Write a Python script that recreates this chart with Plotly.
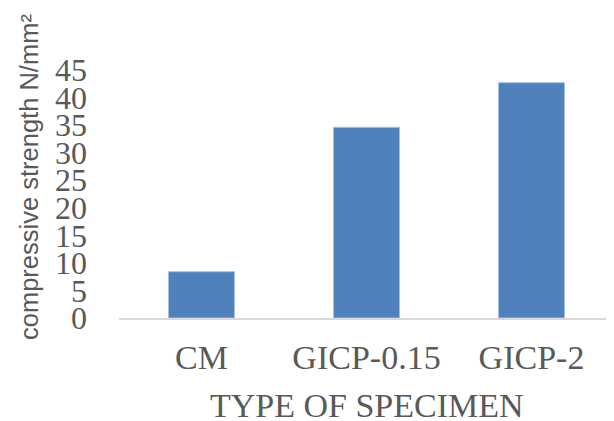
import plotly.graph_objects as go

categories = ["CM", "GICP-0.15", "GICP-2"]
strength = [8.4, 34.6, 42.7]
y_ticks = [0, 5, 10, 15, 20, 25, 30, 35, 40, 45]

# page body has an 8px margin, so the figure is sized/offset to compensate
OFF = 8
W, H = 614 - OFF, 421 - OFF
L, R, T = 119 - OFF, 0, 70 - OFF
ph = 248
B = H - T - ph
pw = W - L - R
y0 = T + ph  # plot bottom in figure px

text_col = "#595959"
serif = "Liberation Serif, Times New Roman, serif"

fig = go.Figure(go.Bar(
    x=categories, y=strength, width=0.4,
    marker=dict(color="#4F81BD", line=dict(color="#A7BFDE", width=1)),
))

fig.update_layout(
    width=W, height=H,
    margin=dict(l=L, r=R, t=T, b=B, pad=0),
    plot_bgcolor="white", paper_bgcolor="white",
    showlegend=False,
    font=dict(family=serif, color=text_col, size=34),
)
fig.update_xaxes(
    showgrid=False, showline=True, linecolor="#D9D9D9", linewidth=1.5,
    ticks="", tickfont=dict(size=34), ticklabelstandoff=8,
)
fig.update_yaxes(
    range=[0, 45], tickvals=y_ticks, showgrid=False, showline=False, zeroline=False,
    ticks="", tickfont=dict(size=32), ticklabelstandoff=31,
)
fig.add_annotation(
    text="TYPE OF SPECIMEN", xref="paper", yref="paper",
    x=0.5, y=-(397 - y0) / ph,
    showarrow=False, xanchor="center", yanchor="middle",
    font=dict(size=34, color=text_col, family=serif),
)
fig.add_annotation(
    text="compressive strength N/mm²", xref="paper", yref="paper",
    x=(21 - L) / pw, y=(y0 - 169) / ph, textangle=-90,
    showarrow=False, xanchor="center", yanchor="middle",
    font=dict(size=25.5, color=text_col, family="Liberation Sans, Arial, sans-serif"),
)

fig.write_html("out.html")
